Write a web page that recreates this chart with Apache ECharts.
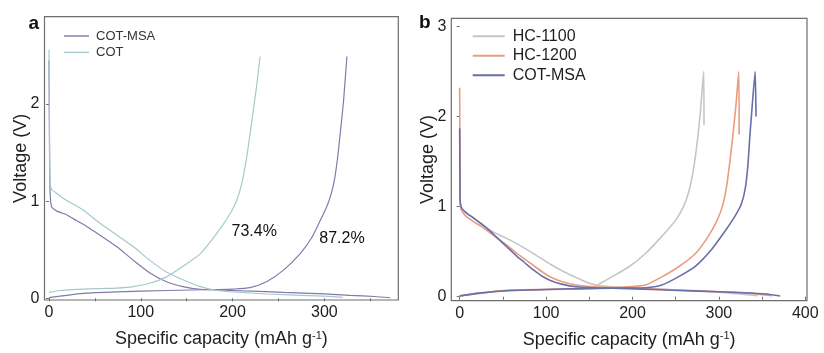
<!DOCTYPE html>
<html><head><meta charset="utf-8">
<script src="https://cdn.jsdelivr.net/npm/echarts@6/dist/echarts.min.js"></script>
<style>html,body{margin:0;padding:0;background:#fff}#c{width:824px;height:353px}</style>
</head><body><div id="c"></div>
<script>
const FONT = 'Liberation Sans, Arial, Helvetica, sans-serif';

// ---------- Panel a ----------
const a_cotmsa_discharge = [[0,2.45],[0.5,1.6],[1,1.15],[1.8,1.0],[2.9,0.94],[8,0.9],[19,0.86],[30,0.8],[41,0.74],[55.6,0.65],[74,0.53],[92,0.39],[110,0.26],[128,0.17],[146,0.12],[165,0.093],[201,0.08],[256,0.06],[300,0.045],[328,0.03],[355,0.018],[372,0.005]];
const a_cotmsa_charge = [[0,0.006],[19,0.03],[37,0.05],[74,0.065],[128,0.08],[183,0.09],[201,0.095],[219,0.11],[237,0.17],[255.5,0.29],[273.7,0.46],[286,0.62],[295,0.79],[302,0.93],[307,1.06],[311,1.22],[314.5,1.45],[317.6,1.72],[321,2.04],[324.6,2.49]];
const a_cot_discharge = [[0,2.56],[0.4,2.0],[0.8,1.4],[1.2,1.18],[3,1.12],[8.4,1.08],[19,1.01],[37,0.91],[56,0.77],[74,0.65],[92,0.53],[110,0.39],[128,0.27],[146,0.19],[165,0.12],[183,0.08],[210,0.06],[237,0.044],[275,0.03],[310,0.017],[320,0.01]];
const a_cot_charge = [[0,0.06],[12,0.08],[56,0.1],[74,0.105],[92,0.12],[110,0.155],[128,0.22],[146,0.33],[165,0.46],[183,0.67],[198,0.88],[205,1.02],[210,1.18],[214.5,1.4],[218,1.62],[221.8,1.88],[226,2.17],[230,2.49]];
const a_names = ['COT-MSA','COT'];
const a_xLabels = [0,100,200,300];
const a_xTicks = [0,50,100,150,200,250,300,350];
const a_yLabels = [0,1,2];
const a_annotations = [[223.6,0.687,'73.4%'],[319.2,0.619,'87.2%']];

// ---------- Panel b ----------
const b_hc1100_discharge = [[0,1.85],[0.3,1.3],[0.6,1.06],[2,0.99],[6.5,0.94],[15,0.88],[25,0.81],[35,0.74],[45,0.69],[60,0.62],[75,0.54],[90,0.45],[105,0.36],[120,0.28],[138,0.2],[150,0.15],[158,0.13],[165,0.12],[195,0.1],[253,0.075],[300,0.05],[345,0.012]];
const b_hc1100_charge = [[0,0.01],[50,0.065],[100,0.08],[140,0.09],[155,0.11],[165,0.16],[176,0.22],[195.6,0.33],[215,0.48],[234,0.67],[250,0.85],[259,1.0],[265,1.16],[270,1.38],[275,1.72],[279,2.1],[282.4,2.5],[282.8,1.91]];
const b_hc1200_discharge = [[0,2.32],[0.3,1.6],[0.6,1.05],[1.5,0.97],[6.5,0.9],[15,0.84],[25,0.78],[35,0.71],[45,0.64],[55,0.57],[65,0.49],[75,0.42],[85,0.35],[95,0.28],[105,0.22],[118,0.17],[135,0.13],[157,0.11],[195,0.095],[253,0.075],[300,0.055],[340,0.035],[362,0.012]];
const b_hc1200_charge = [[0,0.01],[50,0.07],[100,0.08],[150,0.09],[195,0.11],[215,0.13],[234,0.22],[253,0.33],[273,0.48],[289,0.69],[298,0.85],[304,1.0],[308.5,1.2],[312.5,1.48],[316.5,1.82],[320,2.15],[323,2.5],[323.5,1.8]];
const b_cotmsa_discharge = [[0,1.87],[0.3,1.3],[0.6,1.06],[2,0.99],[6.5,0.94],[15,0.88],[25,0.81],[35,0.73],[45,0.64],[55,0.55],[65,0.46],[75,0.38],[85,0.3],[95,0.23],[105,0.18],[118,0.14],[135,0.11],[157,0.1],[195,0.09],[253,0.07],[300,0.055],[330,0.045],[355,0.03],[371,0.008]];
const b_cotmsa_charge = [[0,0.008],[22,0.04],[60,0.07],[99,0.08],[138,0.09],[176,0.095],[215,0.10],[234,0.13],[253,0.22],[273,0.34],[292,0.53],[308,0.74],[319,0.9],[326,1.03],[330.5,1.2],[333.5,1.45],[336,1.8],[339,2.17],[342,2.5],[343,2.0]];
const b_names = ['HC-1100','HC-1200','COT-MSA'];
const b_xLabels = [0,100,200,300,400];
const b_xTicks = [0,50,100,150,200,250,300,350,400];
const b_yLabels = [0,1,2,3];

const colA = ['#8279ab','#a5c9cb'];
const colB = ['#c6c6c6','#ea9c80','#6a6ea9'];
const frame = '#6e6e6e';
const txt = '#1e1e1e';

function line(name, data, color, xi, w) {
  return {type:'line', name, data, xAxisIndex:xi, yAxisIndex:xi, showSymbol:false, symbol:'none',
    smooth:0.2, lineStyle:{color, width:w}, itemStyle:{color}, animation:false, silent:true, z:2};
}

function xAxis(gi, min, max, labels, ticks) {
  return {type:'value', gridIndex:gi, min, max, splitLine:{show:false},
    axisLine:{show:false},
    axisTick:{show:true, inside:false, length:3, customValues:ticks, lineStyle:{color:frame, width:1}},
    axisLabel:{customValues:labels, margin:5, fontSize:16, color:txt, fontFamily:FONT},
    name:'Specific capacity (mAh g{s|-1})', nameLocation:'middle', nameGap:30, nameMoveOverlap:false,
    nameTextStyle:{fontSize:18, color:txt, fontFamily:FONT, rich:{s:{fontSize:11, verticalAlign:'top', color:txt, fontFamily:FONT}}}};
}
function yAxis(gi, min, max, labels) {
  return {type:'value', gridIndex:gi, min, max, splitLine:{show:false},
    axisLine:{show:false},
    axisTick:{show:true, inside:false, length:3, customValues:labels, lineStyle:{color:frame, width:1}},
    axisLabel:{customValues:labels, margin:5, fontSize:16, color:txt, fontFamily:FONT},
    name:'Voltage (V)', nameLocation:'middle', nameGap:14, nameMoveOverlap:false,
    nameTextStyle:{fontSize:18, color:txt, fontFamily:FONT}};
}

const chart = echarts.init(document.getElementById('c'), null, {renderer:'canvas', width:824, height:353});
chart.setOption({
  animation:false,
  backgroundColor:'#fff',
  textStyle:{fontFamily:FONT},
  grid:[
    {left:44.5, top:16.7, width:353.8, height:283.3, show:true, borderColor:frame, borderWidth:1.2, backgroundColor:'transparent', containLabel:false, outerBoundsMode:'none'},
    {left:451.3, top:18.3, width:355.7, height:282.4, show:true, borderColor:frame, borderWidth:1.2, backgroundColor:'transparent', containLabel:false, outerBoundsMode:'none'}
  ],
  xAxis:[xAxis(0,-4.9,380.6,a_xLabels,a_xTicks), xAxis(1,-9.7,402,b_xLabels,b_xTicks)],
  yAxis:[yAxis(0,-0.018,2.90,a_yLabels), yAxis(1,-0.044,3.09,b_yLabels)],
  legend:[
    {orient:'vertical', left:64, top:27.8, padding:0, itemWidth:25, itemHeight:1.4, itemGap:0, icon:'rect',
     textStyle:{fontSize:13, lineHeight:16.4, color:'#333', fontFamily:FONT, padding:[0,0,0,2]},
     data:a_names.map((n,i)=>({name:n, itemStyle:{color:colA[i]}})), selectedMode:false},
    {orient:'vertical', left:472.7, top:26.5, padding:0, itemWidth:32, itemHeight:2, itemGap:0, icon:'rect',
     textStyle:{fontSize:16, lineHeight:19.5, color:txt, fontFamily:FONT, padding:[0,0,0,3]},
     data:b_names.map((n,i)=>({name:n+' ', itemStyle:{color:colB[i]}})), selectedMode:false}
  ],
  graphic:[
    {type:'text', left:28.5, top:14, style:{text:'a', font:'bold 19px '+FONT, fill:'#111'}},
    {type:'text', left:419, top:13.5, style:{text:'b', font:'bold 19px '+FONT, fill:'#111'}}
  ],
  series:[
    line(a_names[0], a_cotmsa_discharge, colA[0], 0, 1.2),
    line(a_names[0], a_cotmsa_charge, colA[0], 0, 1.2),
    line(a_names[1], a_cot_discharge, colA[1], 0, 1.2),
    line(a_names[1], a_cot_charge, colA[1], 0, 1.2),
    line(b_names[0]+' ', b_hc1100_discharge, colB[0], 1, 1.6),
    line(b_names[0]+' ', b_hc1100_charge, colB[0], 1, 1.6),
    line(b_names[1]+' ', b_hc1200_discharge, colB[1], 1, 1.6),
    line(b_names[1]+' ', b_hc1200_charge, colB[1], 1, 1.6),
    line(b_names[2]+' ', b_cotmsa_discharge, colB[2], 1, 1.6),
    line(b_names[2]+' ', b_cotmsa_charge, colB[2], 1, 1.6),
    {type:'scatter', name:'annotations', xAxisIndex:0, yAxisIndex:0, data:a_annotations, symbolSize:2,
     itemStyle:{color:'rgba(255,255,255,0)'}, silent:true, z:5,
     label:{show:true, position:'inside', formatter:p=>p.value[2], fontSize:16, color:'#111', opacity:1, textBorderWidth:0, fontFamily:FONT}}
  ]
});
</script></body></html>
